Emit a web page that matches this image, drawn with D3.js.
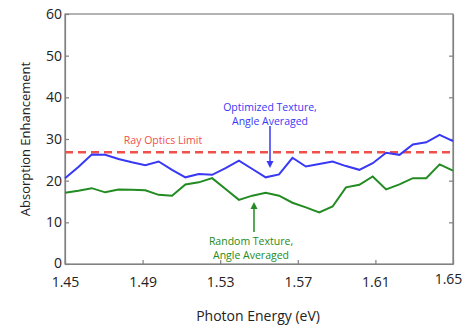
<!DOCTYPE html>
<html>
<head>
<meta charset="utf-8">
<script src="https://cdn.jsdelivr.net/npm/d3@7"></script>
<style>
body { margin: 0; background: #fff; }
svg { font-family: "Open Sans", "Liberation Sans", sans-serif; }
</style>
</head>
<body>
<script>
// photon energy range and the values (30 samples)
var energyRange = [1.45, 1.65];
var optimized = [20.6, 23.3, 26.3, 26.2, 25.2, 24.4, 23.7, 24.6, 22.6, 20.8,
	21.6, 21.4, 23.0, 24.8, 22.8, 20.8, 21.5, 25.5, 23.4, 24.0,
	24.6, 23.5, 22.6, 24.2, 26.7, 26.2, 28.7, 29.2, 31.0, 29.5];
var random = [17.1, 17.6, 18.2, 17.2, 17.9, 17.8, 17.7, 16.6, 16.4, 19.1,
	19.6, 20.6, 18.0, 15.4, 16.4, 17.1, 16.4, 14.7, 13.6, 12.4,
	13.8, 18.4, 19.0, 21.0, 17.9, 19.1, 20.6, 20.6, 23.9, 22.4];
var rayOpticsLimit = 26.8;
var xTicks = [1.45, 1.49, 1.53, 1.57, 1.61, 1.65];
var yTicks = [0, 10, 20, 30, 40, 50, 60];

var w = 476, h = 327;
var margin = {left: 65, right: 23, top: 14, bottom: 63};

var svg = d3.select("body").append("svg")
	.attr("width", w)
	.attr("height", h);

var x = d3.scaleLinear().domain(energyRange).range([margin.left, w - margin.right]);
var y = d3.scaleLinear().domain([0, 60]).range([h - margin.bottom, margin.top]);

// energy of each sample, evenly spaced across the range
var n = optimized.length;
function energy(i) { return energyRange[0] + i * (energyRange[1] - energyRange[0]) / (n - 1); }

var axisColor = "#808080";

// frame
svg.append("rect")
	.attr("x", x(1.45)).attr("y", y(60))
	.attr("width", x(1.65) - x(1.45)).attr("height", y(0) - y(60))
	.attr("fill", "none").attr("stroke", axisColor).attr("stroke-width", 1.2);

// axes, ticks pointing inward
var xAxis = svg.append("g")
	.attr("transform", "translate(0," + y(0) + ")")
	.call(d3.axisBottom(x).tickValues(xTicks).tickSizeInner(-4).tickSizeOuter(0).tickPadding(13)
		.tickFormat(d3.format(".2f")));
var yAxis = svg.append("g")
	.attr("transform", "translate(" + x(1.45) + ",0)")
	.call(d3.axisLeft(y).tickValues(yTicks).tickSizeInner(-4).tickSizeOuter(0).tickPadding(3));
var yAxisR = svg.append("g")
	.attr("transform", "translate(" + x(1.65) + ",0)")
	.call(d3.axisRight(y).tickValues(yTicks.slice(1, 6)).tickSizeInner(-4).tickSizeOuter(0).tickFormat(""));

[xAxis, yAxis, yAxisR].forEach(function(g){
	g.select(".domain").attr("stroke", axisColor).attr("stroke-width", 1.2);
	g.selectAll(".tick line").attr("stroke", axisColor).attr("stroke-width", 1.2);
	g.selectAll(".tick text").attr("fill", "#222").style("font-size", "14px")
		.style("font-family", "'Open Sans', sans-serif");
});
// last energy label sits a bit higher and left in the original
xAxis.selectAll(".tick text").filter(function(d){ return d === 1.65; })
	.attr("dx", -5).attr("dy", "0.5em");
yAxis.selectAll(".tick text").attr("x", -3);
yAxis.selectAll(".tick text").filter(function(d){ return d === 0; }).attr("dy", "0.25em");

// ray optics limit
svg.append("line")
	.attr("x1", x(1.45)).attr("x2", x(1.65))
	.attr("y1", y(rayOpticsLimit)).attr("y2", y(rayOpticsLimit))
	.attr("stroke", "#f0504a").attr("stroke-width", 2.5)
	.attr("stroke-dasharray", "8,5");

var line = d3.line()
	.x(function(d, i){ return x(energy(i)); })
	.y(function(d){ return y(d); });

svg.append("path").datum(random)
	.attr("d", line).attr("fill", "none")
	.attr("stroke", "#228b22").attr("stroke-width", 2);

svg.append("path").datum(optimized)
	.attr("d", line).attr("fill", "none")
	.attr("stroke", "#3838f5").attr("stroke-width", 2);

// annotations
function note(lines, cx, cy, color) {
	var t = svg.append("text")
		.attr("text-anchor", "middle")
		.attr("fill", color)
		.style("font-size", "10.5px");
	lines.forEach(function(s, k){
		t.append("tspan").attr("x", cx).attr("y", cy + k * 14).text(s);
	});
}
function arrow(x0, y0, y1, color) {
	var dir = y1 > y0 ? 1 : -1;
	svg.append("line")
		.attr("x1", x0).attr("x2", x0).attr("y1", y0).attr("y2", y1 - dir * 5)
		.attr("stroke", color).attr("stroke-width", 1.5);
	svg.append("path")
		.attr("d", "M" + (x0 - 3.5) + "," + (y1 - dir * 7) + "L" + x0 + "," + y1 + "L" + (x0 + 3.5) + "," + (y1 - dir * 7) + "Z")
		.attr("fill", color);
}

svg.append("text")
	.attr("x", 163).attr("y", y(rayOpticsLimit) - 8)
	.attr("text-anchor", "middle")
	.attr("fill", "#f0504a")
	.style("font-size", "10.5px")
	.text("Ray Optics Limit");

note(["Optimized Texture,", "Angle Averaged"], 270, 111, "#3838f5");
arrow(270, 126, 168, "#3838f5");

note(["Random Texture,", "Angle Averaged"], 251, 245, "#228b22");
arrow(254, 232, 202, "#228b22");

// axis titles
svg.append("text")
	.attr("x", (x(1.45) + x(1.65)) / 2 - 1).attr("y", 321)
	.attr("text-anchor", "middle")
	.attr("fill", "#222")
	.style("font-size", "14px")
	.text("Photon Energy (eV)");

svg.append("text")
	.attr("transform", "translate(30," + ((y(0) + y(60)) / 2) + ") rotate(-90)")
	.attr("text-anchor", "middle")
	.attr("fill", "#222")
	.style("font-size", "13px")
	.text("Absorption Enhancement");
</script>
</body>
</html>
